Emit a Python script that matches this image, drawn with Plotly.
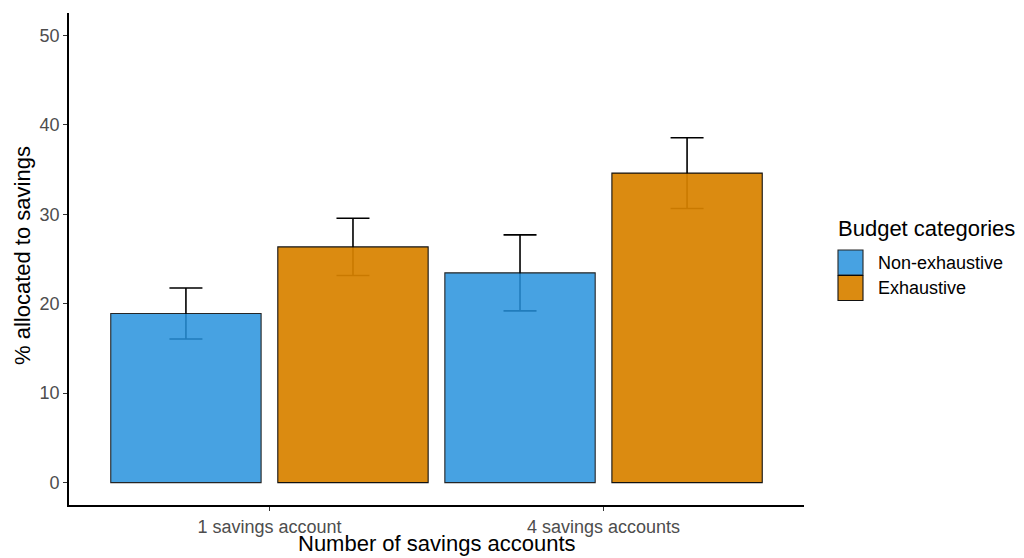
import plotly.graph_objects as go

# Mean % allocated to savings, with error half-widths
accounts = ["1 savings account", "4 savings accounts"]
non_exhaustive = [18.9, 23.45]
non_exhaustive_err = [2.85, 4.25]
exhaustive = [26.35, 34.6]
exhaustive_err = [3.2, 3.95]

series_names = ["Non-exhaustive", "Exhaustive"]
fill_colors = ["rgb(39,146,221)", "rgb(217,131,0)"]
fill_alphas = [0.85, 0.93]
font_family = "Liberation Sans, Arial, sans-serif"

bar_width = 0.45
offsets = [-0.475, 0.025]
values = [non_exhaustive, exhaustive]
errors = [non_exhaustive_err, exhaustive_err]

fig = go.Figure()

# Error bars first, so the translucent bars sit on top of their lower halves
for vals, errs, off in zip(values, errors, offsets):
    fig.add_trace(go.Bar(
        x=accounts, y=vals, offset=off, width=bar_width,
        marker=dict(color="rgba(0,0,0,0)", line=dict(width=0)),
        error_y=dict(type="data", array=errs, visible=True,
                     color="black", thickness=1.6, width=16.5),
        showlegend=False, hoverinfo="skip",
    ))

for name, vals, off, col, alpha in zip(series_names, values, offsets,
                                       fill_colors, fill_alphas):
    fig.add_trace(go.Bar(
        x=accounts, y=vals, offset=off, width=bar_width, name=name,
        marker=dict(color=col, opacity=alpha,
                    line=dict(color="black", width=1.1)),
        showlegend=False,
    ))

# Pixel helpers for the plot frame
px_l, px_r, px_t, px_b = 69, 804, 13, 505
def xp(px):
    return (px - px_l) / (px_r - px_l)
def yp(py):
    return (px_b - py) / (px_b - px_t)

# Axis titles
fig.add_annotation(x=0.5, y=yp(557), xref="paper", yref="paper",
                   text="Number of savings accounts", showarrow=False,
                   xanchor="center", yanchor="bottom", borderpad=0,
                   font=dict(family=font_family, size=22, color="black"))
fig.add_annotation(x=xp(22), y=yp(256), xref="paper", yref="paper",
                   text="% allocated to savings", showarrow=False, textangle=-90,
                   xanchor="center", yanchor="middle",
                   font=dict(family=font_family, size=22, color="black"))

# Legend drawn by hand: title plus large keyed squares
fig.add_annotation(x=xp(836), y=yp(229), xref="paper", yref="paper",
                   text="Budget categories", showarrow=False,
                   xanchor="left", yanchor="middle",
                   font=dict(family=font_family, size=22, color="black"))
for i, (name, col, alpha) in enumerate(zip(series_names, fill_colors, fill_alphas)):
    top = 250 + i * 25.5
    fig.add_shape(type="rect", xref="paper", yref="paper",
                  x0=xp(838), x1=xp(863), y0=yp(top + 25), y1=yp(top),
                  fillcolor=col, opacity=alpha,
                  line=dict(color="black", width=1.1))
    fig.add_annotation(x=xp(876), y=yp(top + 12.5), xref="paper", yref="paper",
                       text=name, showarrow=False,
                       xanchor="left", yanchor="middle",
                       font=dict(family=font_family, size=18, color="black"))

fig.update_layout(
    barmode="overlay",
    width=1024, height=558,
    margin=dict(l=px_l, r=1024 - px_r, t=px_t, b=558 - px_b),
    plot_bgcolor="white", paper_bgcolor="white",
    font=dict(family=font_family),
    showlegend=False,
)
fig.update_xaxes(
    type="category", range=[-0.6, 1.6], automargin=False,
    showline=True, linecolor="black", linewidth=1.8,
    ticks="outside", ticklen=4, tickwidth=1.3, tickcolor="#333333",
    tickfont=dict(size=18, color="#4D4D4D"),
    showgrid=False, zeroline=False,
)
fig.update_yaxes(
    range=[-2.5, 52.5], tickvals=[0, 10, 20, 30, 40, 50], automargin=False,
    showline=True, linecolor="black", linewidth=1.8,
    ticks="outside", ticklen=4, tickwidth=1.3, tickcolor="#333333",
    tickfont=dict(size=18, color="#4D4D4D"),
    showgrid=False, zeroline=False,
)

fig.write_html("out.html")
